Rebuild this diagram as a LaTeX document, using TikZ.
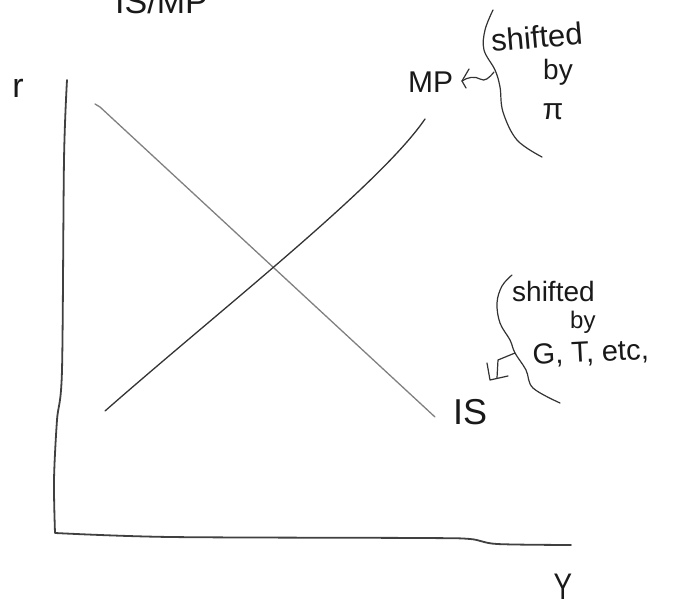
\documentclass[tikz,border=0pt]{standalone}
\usepackage{fontspec}
\setmainfont{Liberation Sans}
\begin{document}
\begin{tikzpicture}[x=1pt,y=-1pt,
  axisline/.style={draw=black!75,line width=1.8pt,line cap=round,line join=round},
  mpline/.style={draw=black!80,line width=1.3pt,line cap=round},
  isline/.style={draw=black!50,line width=1.3pt,line cap=round},
  hand/.style={draw=black!80,line width=1.2pt,line cap=round,line join=round},
  lbl/.style={inner sep=0pt,text=black!90}]
\useasboundingbox (0,0) rectangle (673,609);
% title (cut off at the top edge, as in the reference)
\node[lbl,anchor=base west,font=\fontsize{34}{34}\selectfont] (title) at (115,14) {IS/MP};
% axis labels
\node[lbl,anchor=base,font=\fontsize{34}{34}\selectfont] (r) at (18,98) {r};
\node[lbl,anchor=base,font=\fontsize{37}{37}\selectfont,xscale=0.75] (Y) at (563,600) {Y};
% axes
\coordinate (ytop) at (67,80);
\coordinate (origin) at (55,533);
\coordinate (xend) at (571,545);
\draw[axisline] plot[smooth,tension=0.5] coordinates {(67,80) (64,160) (62,370) (57,420) (54,480) (55,533)}
  -- plot[smooth,tension=0.5] coordinates {(55,533) (170,537) (420,538) (470,539) (497,544) (571,545)};
% IS curve
\coordinate (is1) at (95,104);
\coordinate (is2) at (435,417);
\draw[isline] (is1) -- (100,107) -- (is2);
% MP curve
\coordinate (mp1) at (105,411);
\coordinate (mp2) at (425,119);
\draw[mpline] (mp1) .. controls (220,310) and (380,185) .. (mp2);
% labels of the curves
\node[lbl,anchor=base west,font=\fontsize{30}{30}\selectfont] (MP) at (408,93) {MP};
\node[lbl,anchor=base west,font=\fontsize{36}{36}\selectfont] (IS) at (453,425) {IS};
% upper brace
\draw[hand] plot[smooth,tension=0.6] coordinates {(493,10) (485,30) (484,50) (495,70) (500,87) (503,112) (517,140) (542,157)};
\coordinate (b1) at (494,72);
\node[lbl,anchor=base west,font=\fontsize{31}{31}\selectfont,rotate=5] (s1) at (492,52) {shifted};
\node[lbl,anchor=base west,font=\fontsize{28}{28}\selectfont] (by1) at (543,80) {by};
\node[lbl,font=\fontsize{30}{30}\selectfont] (pi) at (553,112) {π};
% wavy arrow to MP
\draw[hand] (b1) .. controls (489,78) and (485,82) .. (480,79) .. controls (475,76) and (468,77) .. (462,81);
\draw[hand] (469,69) -- (462,81) -- (466,88);
% lower brace
\draw[hand] plot[smooth,tension=0.6] coordinates {(512,275) (502,286) (497,303) (500,323) (510,340) (515,353) (526,370) (533,388) (560,403)};
\coordinate (b2) at (515,353);
\node[lbl,anchor=base west,font=\fontsize{28}{28}\selectfont] (s2) at (512,302) {shifted};
\node[lbl,anchor=base west,font=\fontsize{24}{24}\selectfont] (by2) at (570,329) {by};
\node[lbl,anchor=base west,font=\fontsize{29}{29}\selectfont,rotate=3] (gt) at (533,365) {G, T, etc,};
% arrow from brace toward IS
\draw[hand] (b2) -- (498,360) -- (497,378);
\draw[hand] (487,363) -- (490,380) -- (508,376);
\end{tikzpicture}
\end{document}
